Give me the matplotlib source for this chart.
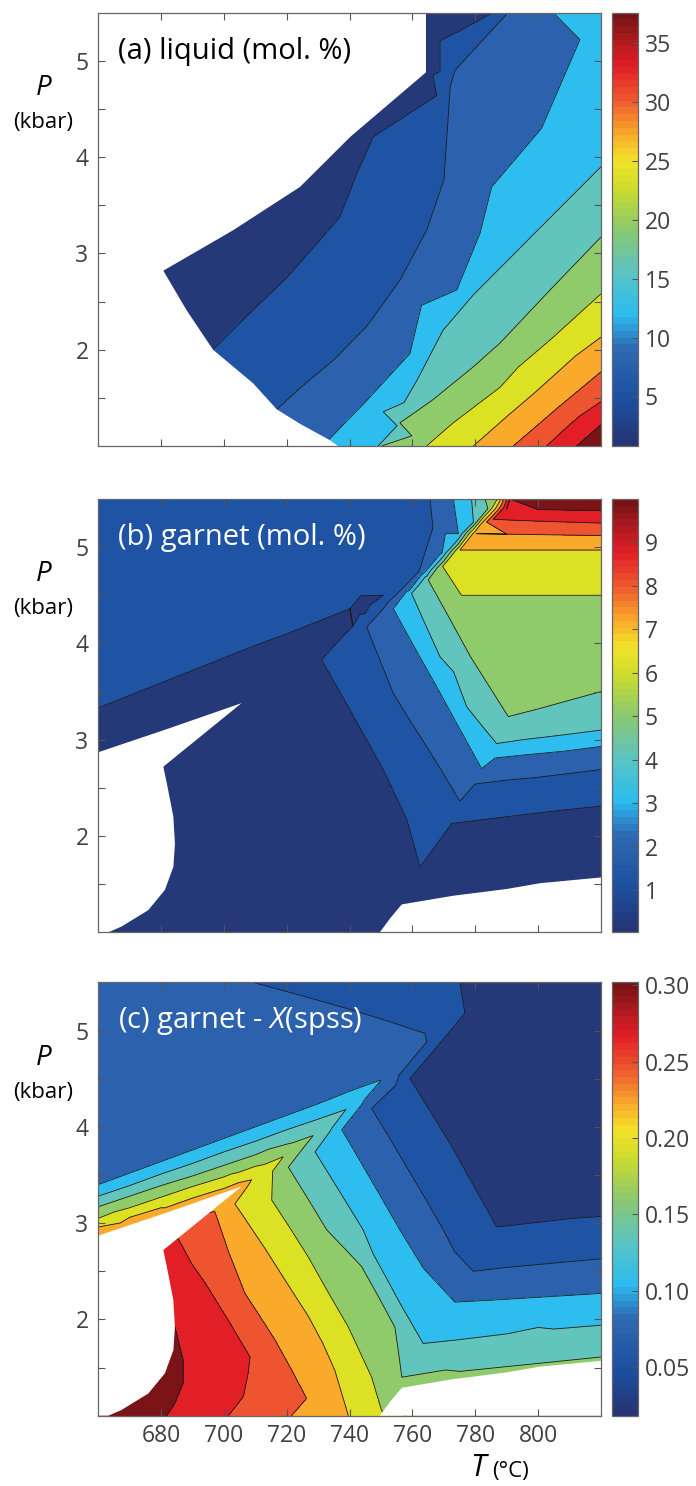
import numpy as np
import matplotlib
matplotlib.use("Agg")
import matplotlib.pyplot as plt
import matplotlib.tri as mtri
from matplotlib.colors import LinearSegmentedColormap, Normalize
from matplotlib.cm import ScalarMappable

plt.rcParams["font.family"] = ["Open Sans", "DejaVu Sans"]
plt.rcParams["mathtext.fontset"] = "custom"
plt.rcParams["mathtext.rm"] = "Open Sans"
plt.rcParams["mathtext.it"] = "Open Sans:italic"

# colour range of each colorbar, cut into 11 equal bands
liq_range = (0.8, 37.6)
grt_range = (0.03, 10.0)
xsp_range = (0.018, 0.302)

band_colors = ["#253877", "#1f53a4", "#2c62ad", "#2dbdee", "#61c4bd", "#8fca6b",
               "#dde123", "#f9aa2b", "#ef5430", "#e21e26", "#7a1416"]

# ---- (a) liquid: traced contour lines (T degC, P kbar), lowest level first
liq_1 = [(696.5, 2.00), (709.2, 2.41), (720.1, 2.75), (730.6, 3.14), (736.9, 3.38),
         (742.3, 3.83), (747.5, 4.21), (766.5, 4.85), (785.6, 5.50)]
liq_2 = [(716.8, 1.38), (724.2, 1.60), (734.8, 1.89), (745.4, 2.24), (756.0, 2.72),
         (764.5, 3.24), (770.0, 3.76), (771.3, 4.38), (772.0, 4.73), (773.5, 4.90), (790.4, 5.50)]
liq_3 = [(733.2, 1.06), (745.4, 1.47), (759.2, 1.96), (774.1, 2.62), (781.5, 3.21),
         (785.2, 3.69), (801.1, 4.30), (817.0, 4.89), (813.3, 5.22), (804.8, 5.50)]
liq_4 = [(749.1, 1.00), (755.1, 1.21), (757.3, 1.45), (761.4, 1.68), (769.7, 2.20),
         (779.4, 2.57), (797.4, 3.16), (820.0, 3.90)]
liq_5 = [(750.2, 1.00), (756.0, 1.24), (761.3, 1.36), (766.5, 1.48), (779.3, 1.82),
         (787.9, 2.07), (803.8, 2.62), (820.0, 3.17)]
liq_6 = [(764.5, 1.00), (787.9, 1.61), (803.8, 2.10), (820.0, 2.58)]
liq_7 = [(779.4, 1.00), (799.5, 1.57), (820.0, 2.13)]
liq_8 = [(792.1, 1.00), (806.0, 1.39), (820.0, 1.77)]
liq_9 = [(802.7, 1.00), (820.0, 1.46)]
liq_10 = [(812.3, 1.00), (820.0, 1.22)]
# other readings inside the bands (T, P, value)
liq_extra = [(680.7, 2.82, 1.0), (702.9, 3.24, 1.0), (724.2, 3.69, 1.0), (740.2, 4.21, 1.0),
             (764.3, 4.88, 1.0), (764.3, 5.50, 1.0), (775.0, 5.50, 2.5), (688.1, 2.41, 2.5),
             (709.3, 1.65, 5.8), (724.2, 1.23, 9.2), (736.3, 1.00, 11.3), (820.0, 5.50, 11.5),
             (820.0, 4.90, 11.0), (820.0, 4.40, 12.6), (820.0, 1.00, 37.6)]
# where no liquid was computed
liq_absent = [(660, 5.5), (764.3, 5.5), (764.3, 4.88), (740.2, 4.21), (724.2, 3.69),
              (702.9, 3.24), (680.7, 2.82), (688.1, 2.41), (696.5, 2.00), (709.3, 1.65),
              (716.8, 1.38), (724.2, 1.23), (733.7, 1.06), (736.3, 1.00), (660, 1.0)]

# ---- (b) garnet mol. %
grt_1 = [(660.0, 3.33), (670.0, 3.46), (680.0, 3.59), (690.0, 3.72), (700.0, 3.85),
         (710.0, 3.98), (720.0, 4.10), (730.0, 4.23), (740.1, 4.36), (750.7, 4.50),
         (745.0, 4.31), (741.0, 4.18), (736.9, 4.04), (734.0, 3.935), (731.1, 3.83),
         (740.1, 3.31), (745.4, 3.00), (750.7, 2.69), (758.2, 2.17), (762.4, 1.68),
         (772.5, 2.13), (785.0, 2.18), (795.0, 2.22), (808.0, 2.27), (820.0, 2.31)]
grt_2 = [(765.6, 5.50), (766.5, 5.20), (767.7, 4.95), (762.1, 4.75), (756.5, 4.56),
         (751.0, 4.37), (745.4, 4.17), (749.6, 3.83), (753.9, 3.48), (759.2, 3.20),
         (764.5, 2.93), (769.8, 2.65), (775.1, 2.36), (779.9, 2.54), (790.0, 2.58),
         (800.0, 2.61), (810.0, 2.65), (820.0, 2.69)]
grt_3 = [(773.0, 5.50), (774.6, 5.14), (769.4, 4.94), (764.2, 4.75), (759.0, 4.55),
         (753.9, 4.36), (760.8, 3.95), (767.7, 3.55), (774.9, 3.12), (782.0, 2.70),
         (786.3, 2.81), (795.0, 2.84), (808.0, 2.88), (820.0, 2.93)]
grt_4 = [(778.8, 5.50), (779.4, 5.26), (774.5, 5.08), (769.5, 4.89), (764.6, 4.70),
         (759.7, 4.52), (764.2, 4.19), (768.8, 3.86), (777.3, 3.34), (782.0, 3.15),
         (786.8, 2.96), (795.0, 3.00), (808.0, 3.05), (820.0, 3.10)]
grt_5 = [(783.1, 5.50), (784.0, 5.40), (779.3, 5.22), (774.5, 5.03), (769.8, 4.85),
         (765.0, 4.66), (771.8, 4.26), (778.5, 3.86), (784.5, 3.55), (790.5, 3.24),
         (800.0, 3.32), (810.0, 3.41), (820.0, 3.50)]
grt_6 = [(787.0, 5.50), (778.3, 5.15), (769.6, 4.80), (775.6, 4.50), (790.0, 4.50),
         (800.0, 4.50), (810.0, 4.50), (820.0, 4.50)]
grt_7 = [(788.0, 5.50), (781.5, 5.23), (775.1, 4.97), (790.0, 4.97), (800.0, 4.97),
         (810.0, 4.97), (820.0, 4.97)]
grt_8 = [(789.0, 5.50), (780.4, 5.14), (790.0, 5.135), (800.0, 5.13), (810.0, 5.125),
         (820.0, 5.12)]
grt_9 = [(790.0, 5.50), (785.7, 5.29), (792.0, 5.28), (800.0, 5.27), (810.0, 5.26),
         (820.0, 5.25)]
grt_10 = [(791.0, 5.50), (790.0, 5.40), (800.0, 5.39), (810.0, 5.385), (820.0, 5.38)]
grt_extra = [(660, 5.5, 1.4), (700, 5.5, 1.4), (740, 5.5, 1.5), (660, 4.4, 1.2), (700, 4.7, 1.3),
             (730, 5.0, 1.4), (748, 5.25, 1.45), (742.5, 4.1, 1.35), (741, 3.95, 1.3),
             (750.3, 4.42, 1.35), (754, 3.0, 1.4), (790, 2.37, 1.4), (820, 2.5, 1.4),
             # navy, including the thin tongue that reaches 750 degC
             (660, 2.87, 0.5), (681.8, 3.11, 0.5), (705.6, 3.38, 0.5), (680, 3.3, 0.6),
             (700, 3.5, 0.6), (720, 3.8, 0.6), (725, 4.0, 0.6), (728, 4.1, 0.62),
             (733, 4.05, 0.65), (735, 4.15, 0.7), (738, 4.22, 0.75), (743, 4.32, 0.8),
             (746, 4.40, 0.85),
             (720, 3.0, 0.5), (720, 2.0, 0.4), (700, 1.5, 0.3), (740, 2.5, 0.5),
             (730, 1.2, 0.3), (680.7, 2.72, 0.4), (684.4, 1.92, 0.3), (675.9, 1.23, 0.3),
             (660, 1.0, 0.3), (663.2, 1.0, 0.3), (749.6, 1.0, 0.3), (756.6, 1.29, 0.4),
             (773, 1.38, 0.4), (800.6, 1.51, 0.4), (820, 1.57, 0.5), (820, 1.0, 0.3),
             (760, 1.5, 0.5), (790, 1.8, 0.5), (820, 2.0, 0.7),
             (782, 4.3, 4.9), (795, 4.0, 5.0), (810, 4.1, 5.0), (805, 3.7, 4.8), (790, 3.6, 4.7),
             (800, 4.73, 5.9), (810, 4.73, 5.9), (800, 5.05, 6.8), (810, 5.05, 6.8),
             (800, 5.20, 7.75), (810, 5.19, 7.75), (800, 5.33, 8.65), (810, 5.32, 8.65),
             (800, 5.5, 9.5), (810, 5.5, 9.7), (820, 5.5, 10.0)]
grt_absent_left = [(660, 2.87), (681.8, 3.11), (705.6, 3.38), (680.7, 2.72), (681.8, 2.55),
                   (683.9, 2.20), (684.4, 1.92), (683.9, 1.68), (681.2, 1.44), (675.9, 1.23),
                   (667.4, 1.06), (663.2, 1.00), (660, 1.00)]
grt_absent_right = [(749.6, 1.00), (753.0, 1.15), (756.6, 1.29), (773.0, 1.38), (790.0, 1.45),
                    (800.6, 1.51), (820, 1.57), (820, 1.00)]

# ---- (c) garnet X(spss)
xsp_1 = [(775.1, 5.50), (776.7, 5.18), (768.0, 4.84), (759.2, 4.50), (765.5, 4.17),
         (771.9, 3.83), (779.3, 3.40), (786.8, 2.96), (795.0, 2.99), (803.0, 3.02),
         (811.0, 3.05), (820.0, 3.07)]
xsp_2 = [(709.3, 5.50), (725.0, 5.36), (740.1, 5.22), (752.0, 5.10), (764.0, 4.97),
         (764.5, 4.88), (755.8, 4.54), (747.0, 4.19), (752.6, 3.89), (758.2, 3.58),
         (764.0, 3.26), (769.8, 2.93), (773.5, 2.70), (777.2, 2.46), (779.4, 2.50),
         (790.0, 2.54), (800.0, 2.57), (810.0, 2.60), (820.0, 2.63)]
xsp_3 = [(660.0, 3.40), (670.0, 3.52), (680.0, 3.64), (690.0, 3.76), (700.0, 3.88),
         (710.0, 4.00), (720.0, 4.12), (730.0, 4.24), (740.0, 4.37), (750.2, 4.49),
         (743.8, 4.23), (737.5, 3.97), (742.0, 3.72), (746.8, 3.45), (751.4, 3.19),
         (756.0, 2.93), (763.5, 2.53), (770.9, 2.13), (773.5, 2.18), (785.0, 2.20),
         (800.0, 2.23), (810.0, 2.25), (820.0, 2.27)]
xsp_4 = [(660.0, 3.28), (670.0, 3.39), (680.0, 3.51), (690.0, 3.62), (700.0, 3.74),
         (710.0, 3.85), (720.0, 3.97), (730.0, 4.08), (738.8, 4.18), (733.9, 3.96),
         (729.0, 3.74), (736.6, 3.34), (744.3, 2.93), (747.5, 2.68), (751.7, 2.43),
         (756.0, 2.17), (759.7, 1.96), (763.4, 1.75), (775.0, 1.79), (790.0, 1.85),
         (805.0, 1.90), (820.0, 1.94)]
xsp_5 = [(660.0, 3.17), (670.0, 3.28), (680.0, 3.39), (690.0, 3.49), (700.0, 3.60),
         (710.0, 3.71), (720.0, 3.82), (728.4, 3.91), (724.5, 3.75), (720.5, 3.58),
         (726.6, 3.26), (732.7, 2.93), (738.3, 2.74), (743.8, 2.55), (749.1, 2.24),
         (754.4, 1.92), (755.6, 1.65), (756.6, 1.40), (775.0, 1.46), (790.0, 1.51),
         (805.0, 1.56), (820.0, 1.61)]
xsp_6 = [(660.0, 3.05), (670.0, 3.16), (680.0, 3.27), (690.0, 3.38), (700.0, 3.48),
         (710.0, 3.59), (718.9, 3.69), (715.5, 3.54), (712.0, 3.39), (715.2, 3.24),
         (721.0, 2.95), (726.8, 2.65), (733.2, 2.28), (739.6, 1.92), (747.0, 1.40), (750.2, 1.05)]
xsp_7 = [(660.0, 2.96), (670.0, 3.06), (680.0, 3.16), (690.0, 3.26), (700.0, 3.36),
         (708.8, 3.45), (703.5, 3.20), (713.0, 2.74), (720.0, 2.38), (726.9, 2.03),
         (731.5, 1.75), (735.3, 1.47), (739.6, 1.00)]
xsp_8 = [(697.1, 3.12), (701.5, 2.70), (706.7, 2.27), (711.5, 2.03), (716.2, 1.79),
         (721.3, 1.49), (726.3, 1.18), (721.5, 1.00)]
xsp_9 = [(685.4, 2.84), (694.0, 2.38), (701.4, 1.99), (708.3, 1.61), (707.7, 1.44),
         (706.2, 1.20), (701.4, 1.00)]
xsp_10 = [(684.4, 1.92), (687.0, 1.58), (687.0, 1.34), (684.4, 1.13), (681.8, 1.00)]
xsp_extra = [(790, 5.5, 0.030), (820, 5.5, 0.025), (800, 4.6, 0.028), (820, 4.5, 0.026),
             (785, 4.0, 0.034), (805, 3.5, 0.036), (820, 3.3, 0.040),
             (770, 4.5, 0.038), (775, 4.0, 0.038), (790, 3.3, 0.038), (800, 3.1, 0.042),
             (745, 5.5, 0.058), (760, 5.3, 0.058), (756.5, 4.4, 0.058), (768, 3.5, 0.058),
             (805, 2.82, 0.057),
             (660, 5.5, 0.085), (660, 4.5, 0.085), (690, 4.5, 0.085), (700, 5.2, 0.082),
             (725, 4.8, 0.080), (752, 4.7, 0.078), (752, 3.5, 0.083), (810, 2.45, 0.083),
             (741, 4.30, 0.105), (744, 4.32, 0.105), (805, 2.1, 0.109),
             (733, 3.98, 0.130), (800, 1.75, 0.135),
             (723, 3.78, 0.158), (714, 3.56, 0.185),
             (660, 2.87, 0.210), (670, 2.98, 0.210), (681.8, 3.11, 0.210), (690, 3.20, 0.210),
             (700, 3.31, 0.210), (705.6, 3.38, 0.210), (715, 2.2, 0.212),
             (690, 2.97, 0.238), (697, 2.6, 0.238), (715, 1.4, 0.238),
             (680.7, 2.72, 0.262), (681.8, 2.55, 0.264), (683.9, 2.20, 0.266), (690, 2.2, 0.263),
             (697, 1.5, 0.264), (683.9, 1.68, 0.282), (681.2, 1.44, 0.288), (675.9, 1.23, 0.294),
             (667.4, 1.06, 0.298), (663.2, 1.0, 0.300), (660, 1.0, 0.300), (676, 1.1, 0.292),
             (749.6, 1.0, 0.176), (753, 1.15, 0.165), (756.6, 1.29, 0.160), (773, 1.38, 0.156),
             (790, 1.45, 0.153), (820, 1.57, 0.150), (820, 1.0, 0.150)]

titles = ["(a) liquid (mol. %)", "(b) garnet (mol. %)", r"(c) garnet - $\it{X}$(spss)"]
title_colors = ["black", "white", "white"]
cbar_ticks = [[5, 10, 15, 20, 25, 30, 35], list(range(1, 10)),
              [0.05, 0.10, 0.15, 0.20, 0.25, 0.30]]
cbar_fmt = ["%d", "%d", "%.2f"]

# on screen 1 kbar is about 31 times as long as 1 degC; triangulate in that shape
P_STRETCH = 30.6


def stack(lines, levels, extra):
    T, P, Z = [], [], []
    for k, line in enumerate(lines):
        for t, p in line:
            T.append(t); P.append(p); Z.append(levels[k + 1])
    for t, p, z in extra:
        T.append(t); P.append(p); Z.append(z)
    return np.array(T), np.array(P), np.array(Z)


panels = [
    (liq_range, [liq_1, liq_2, liq_3, liq_4, liq_5, liq_6, liq_7, liq_8, liq_9, liq_10],
     liq_extra, [liq_absent]),
    (grt_range, [grt_1, grt_2, grt_3, grt_4, grt_5, grt_6, grt_7, grt_8, grt_9, grt_10],
     grt_extra, [grt_absent_left, grt_absent_right]),
    (xsp_range, [xsp_1, xsp_2, xsp_3, xsp_4, xsp_5, xsp_6, xsp_7, xsp_8, xsp_9, xsp_10],
     xsp_extra, [grt_absent_left, grt_absent_right]),
]

cb_cmap = LinearSegmentedColormap.from_list("cb", [
    (0.00, "#253575"), (0.10, "#1d4f9f"), (0.22, "#2e69b3"), (0.30, "#2bbdef"),
    (0.40, "#5cc4c2"), (0.50, "#8bc86e"), (0.60, "#d0dc2a"), (0.66, "#f2e32a"),
    (0.72, "#f9ad2b"), (0.80, "#ef5a2f"), (0.88, "#e21f26"), (0.94, "#b01a1f"),
    (1.00, "#761315")], N=64)

fig = plt.figure(figsize=(6.96, 14.86), dpi=100)
bottoms = [0.6999, 0.3726, 0.0473]

for i, (rng, lines, extra, holes) in enumerate(panels):
    ax = fig.add_axes([0.1412, bottoms[i], 0.7223, 0.2916])
    cax = fig.add_axes([0.8789, bottoms[i], 0.0374, 0.2916])
    levels = np.linspace(rng[0], rng[1], 12)
    T, P, Z = stack(lines, levels, extra)
    shape = mtri.Triangulation(T, P * P_STRETCH)
    tri = mtri.Triangulation(T, P, triangles=shape.triangles)

    ax.tricontourf(tri, Z, levels=levels, colors=band_colors, zorder=1)
    ax.tricontour(tri, Z, levels=levels[1:-1], colors="#1a1a1a", linewidths=0.6, zorder=1.5)
    for hole in holes:
        ht, hp = zip(*hole)
        ax.fill(ht, hp, color="white", lw=0, zorder=2)

    ax.set_xlim(660, 820)
    ax.set_ylim(1, 5.5)
    ax.set_xticks(range(680, 801, 20))
    ax.set_yticks([2, 3, 4, 5])
    ax.set_yticks([1.5, 2.5, 3.5, 4.5], minor=True)
    ax.set_axisbelow(False)
    ax.tick_params(which="both", direction="in", top=True, right=True, length=5,
                   width=0.8, color="#555555", labelsize=16.5, labelcolor="#404040")
    ax.tick_params(axis="y", pad=7)
    ax.tick_params(axis="x", pad=6, labelbottom=(i == 2))
    for sp in ax.spines.values():
        sp.set_color("#666666")
        sp.set_linewidth(0.9)

    ax.text(0.04, 0.91, titles[i], transform=ax.transAxes, fontsize=21,
            color=title_colors[i], ha="left", va="center", zorder=5)
    ax.text(-0.109, 0.826, "P", transform=ax.transAxes, fontsize=20, style="italic",
            ha="center", va="center", color="black")
    ax.text(-0.11, 0.747, "(kbar)", transform=ax.transAxes, fontsize=16,
            ha="center", va="center", color="black")

    sm = ScalarMappable(norm=Normalize(rng[0], rng[1]), cmap=cb_cmap)
    cb = fig.colorbar(sm, cax=cax, ticks=cbar_ticks[i], format=cbar_fmt[i])
    cb.outline.set_edgecolor("#666666")
    cb.outline.set_linewidth(0.9)
    cax.tick_params(direction="in", length=4, width=0.8, color="#555555",
                    labelsize=16.5, labelcolor="#404040", pad=5)

    if i == 2:
        ax.text(0.756, -0.121, "T", transform=ax.transAxes, fontsize=22, style="italic",
                ha="center", va="center", color="black")
        ax.text(0.819, -0.129, "(°C)", transform=ax.transAxes, fontsize=16,
                ha="center", va="center", color="black")

fig.savefig("out.png", dpi=100)
